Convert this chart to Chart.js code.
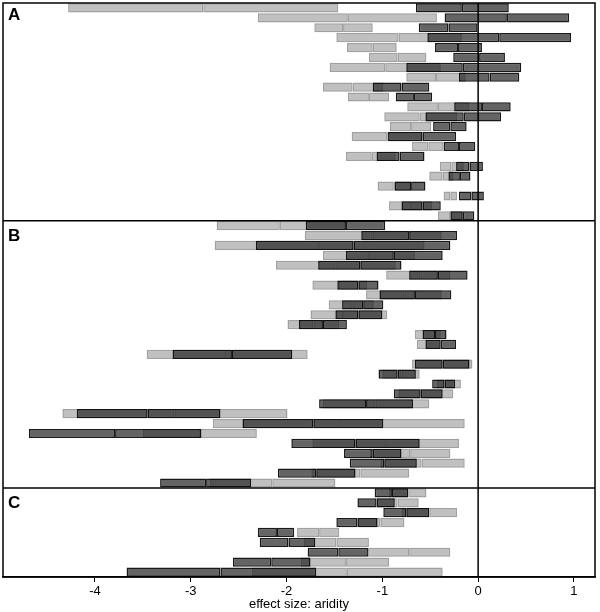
<!DOCTYPE html>
<html>
<head>
  <meta charset="utf-8">
  <title>effect size: aridity</title>
  <script src="https://cdn.jsdelivr.net/npm/chart.js"></script>
  <style>
    body { margin: 0; background: #fff; }
  </style>
</head>
<body>
  <canvas id="chart" width="600" height="612"></canvas>

  <script>
    // panel names, one per block of rows
    const panelLabels = ['A', 'B', 'C'];
    const xTicks = [-4, -3, -2, -1, 0, 1];

    // every row: [low, median, high]
    const lightA = [
      [-4.28, -2.87, -1.46], [-2.30, -1.36, -0.43], [-1.71, -1.41, -1.10], [-1.48, -0.83, -0.17],
      [-1.37, -1.10, -0.85], [-1.14, -0.84, -0.54], [-1.55, -0.97, -0.39], [-0.75, -0.44, -0.13],
      [-1.62, -1.31, -0.99], [-1.36, -1.14, -0.93], [-0.74, -0.42, -0.09], [-0.98, -0.61, -0.22],
      [-0.92, -0.70, -0.49], [-1.32, -0.95, -0.58], [-0.69, -0.52, -0.36], [-1.38, -1.11, -0.86],
      [-0.40, -0.28, -0.15], [-0.51, -0.37, -0.26], [-1.05, -0.88, -0.70], [-0.36, -0.29, -0.22],
      [-0.93, -0.70, -0.48], [-0.42, -0.29, -0.16]
    ];
    const darkA = [
      [-0.65, -0.17, 0.32], [-0.35, 0.30, 0.95], [-0.62, -0.31, 0.00], [-0.53, 0.22, 0.97],
      [-0.45, -0.21, 0.04], [-0.26, 0.01, 0.28], [-0.75, -0.16, 0.45], [-0.20, 0.12, 0.43],
      [-1.10, -0.80, -0.51], [-0.86, -0.67, -0.48], [-0.25, 0.04, 0.34], [-0.55, -0.15, 0.24],
      [-0.47, -0.29, -0.12], [-0.94, -0.58, -0.23], [-0.36, -0.20, -0.03], [-1.06, -0.82, -0.56],
      [-0.23, -0.09, 0.05], [-0.31, -0.19, -0.08], [-0.87, -0.70, -0.55], [-0.20, -0.07, 0.06],
      [-0.80, -0.58, -0.39], [-0.29, -0.16, -0.04]
    ];
    const lightB = [
      [-2.73, -2.07, -1.38], [-1.81, -1.10, -0.38], [-2.75, -1.66, -0.56], [-1.62, -1.14, -0.66],
      [-2.11, -1.49, -0.86], [-0.96, -0.62, -0.29], [-1.73, -1.44, -1.16], [-1.17, -0.77, -0.38],
      [-1.56, -1.31, -1.09], [-1.75, -1.41, -0.95], [-1.99, -1.72, -1.45], [-0.66, -0.52, -0.39],
      [-0.64, -0.50, -0.40], [-3.46, -2.63, -1.78], [-0.69, -0.37, -0.06], [-1.00, -0.80, -0.61],
      [-0.43, -0.29, -0.18], [-0.83, -0.60, -0.26], [-1.62, -1.07, -0.51], [-4.34, -3.17, -1.99],
      [-2.77, -1.45, -0.14], [-3.50, -2.90, -2.31], [-1.73, -0.96, -0.20], [-1.13, -0.71, -0.29],
      [-1.02, -0.59, -0.14], [-1.74, -1.23, -0.72], [-2.80, -2.15, -1.49]
    ];
    const darkB = [
      [-1.80, -1.38, -0.97], [-1.22, -0.72, -0.22], [-2.32, -1.30, -0.29], [-1.38, -0.88, -0.37],
      [-1.67, -1.23, -0.80], [-0.72, -0.42, -0.11], [-1.47, -1.25, -1.04], [-1.03, -0.66, -0.28],
      [-1.42, -1.20, -0.99], [-1.49, -1.25, -1.00], [-1.87, -1.62, -1.37], [-0.58, -0.45, -0.33],
      [-0.55, -0.39, -0.23], [-3.19, -2.57, -1.94], [-0.66, -0.37, -0.09], [-1.04, -0.84, -0.65],
      [-0.48, -0.35, -0.24], [-0.88, -0.60, -0.37], [-1.66, -1.17, -0.68], [-4.19, -3.45, -2.69],
      [-2.46, -1.72, -0.99], [-4.69, -3.79, -2.89], [-1.95, -1.28, -0.61], [-1.40, -1.10, -0.80],
      [-1.34, -0.98, -0.64], [-2.09, -1.69, -1.28], [-3.32, -2.84, -2.37]
    ];
    const lightC = [
      [-0.93, -0.73, -0.54], [-1.06, -0.84, -0.62], [-0.80, -0.51, -0.22], [-1.26, -1.02, -0.77],
      [-1.89, -1.66, -1.45], [-1.82, -1.48, -1.14], [-1.15, -0.72, -0.29], [-1.85, -1.38, -0.93],
      [-2.36, -1.37, -0.37]
    ];
    const darkC = [
      [-1.08, -0.90, -0.73], [-1.26, -1.06, -0.87], [-0.99, -0.75, -0.51], [-1.48, -1.26, -1.05],
      [-2.30, -2.10, -1.92], [-2.28, -1.98, -1.70], [-1.78, -1.46, -1.15], [-2.56, -2.16, -1.75],
      [-3.67, -2.69, -1.69]
    ];

    const light = [...lightA, ...lightB, ...lightC];
    const dark = [...darkA, ...darkB, ...darkC];
    const panelSizes = [lightA.length, lightB.length, lightC.length];
    const labels = light.map((_, i) => 'r' + (i + 1));

    const LIGHT_FILL = 'rgba(150,150,150,0.6)';
    const LIGHT_LINE = 'rgba(110,110,110,0.65)';
    const DARK_FILL = 'rgba(40,40,40,0.72)';
    const DARK_LINE = 'rgba(0,0,0,0.9)';

    // each box = two halves, so the median shows up as the shared border
    function half(rows, from, to, fill, line) {
      return {
        data: rows.map(r => [r[from], r[to]]),
        backgroundColor: fill,
        borderColor: line,
        borderWidth: 1.5,
        borderSkipped: false,
        grouped: false,
        categoryPercentage: 1,
        barPercentage: 0.93
      };
    }

    // frame, panel separators, zero line, panel letters
    const panelPlugin = {
      id: 'panels',
      afterDatasetsDraw(chart) {
        const { ctx, chartArea: a, scales } = chart;
        const y = scales.y;
        ctx.save();
        ctx.strokeStyle = '#000';
        ctx.lineWidth = 1.5;

        const x0 = scales.x.getPixelForValue(0);
        ctx.beginPath();
        ctx.moveTo(x0, a.top);
        ctx.lineTo(x0, a.bottom);
        ctx.stroke();

        let start = 0;
        const tops = [a.top];
        panelSizes.forEach((n, p) => {
          const end = start + n;
          if (p < panelSizes.length - 1) {
            const sep = (y.getPixelForValue(end - 1) + y.getPixelForValue(end)) / 2;
            tops.push(sep);
            ctx.beginPath();
            ctx.moveTo(a.left, sep);
            ctx.lineTo(a.right, sep);
            ctx.stroke();
          }
          start = end;
        });

        ctx.strokeRect(a.left, a.top, a.right - a.left, a.bottom - a.top);

        ctx.fillStyle = '#000';
        ctx.font = 'bold 17px "Liberation Sans", Arial, sans-serif';
        ctx.textBaseline = 'top';
        panelLabels.forEach((txt, i) => {
          ctx.fillText(txt, a.left + 5, tops[i] + (i === 0 ? 4 : 7));
        });
        ctx.restore();
      }
    };

    new Chart(document.getElementById('chart'), {
      type: 'bar',
      data: {
        labels: labels,
        datasets: [
          half(dark, 0, 1, DARK_FILL, DARK_LINE),
          half(dark, 1, 2, DARK_FILL, DARK_LINE),
          half(light, 0, 1, LIGHT_FILL, LIGHT_LINE),
          half(light, 1, 2, LIGHT_FILL, LIGHT_LINE)
        ]
      },
      options: {
        indexAxis: 'y',
        responsive: false,
        animation: false,
        layout: { padding: { left: 3, right: 5, top: 3, bottom: 0 } },
        plugins: {
          legend: { display: false },
          tooltip: { enabled: false }
        },
        scales: {
          x: {
            type: 'linear',
            min: -4.96,
            max: 1.22,
            afterBuildTicks: axis => { axis.ticks = xTicks.map(v => ({ value: v })); },
            afterFit: axis => { axis.height = 35; },
            grid: { drawOnChartArea: false, drawTicks: true, tickLength: 5, color: '#000' },
            border: { display: true, color: '#000', width: 1.5 },
            ticks: {
              color: '#000',
              padding: 3,
              font: { family: '"Liberation Sans", Arial, sans-serif', size: 13, lineHeight: 1 }
            },
            title: {
              display: true,
              text: 'effect size: aridity',
              color: '#000',
              padding: { top: 1, bottom: 1 },
              font: { family: '"Liberation Sans", Arial, sans-serif', size: 13, lineHeight: 1 }
            }
          },
          y: {
            type: 'category',
            display: false
          }
        }
      },
      plugins: [panelPlugin]
    });
  </script>
</body>
</html>
